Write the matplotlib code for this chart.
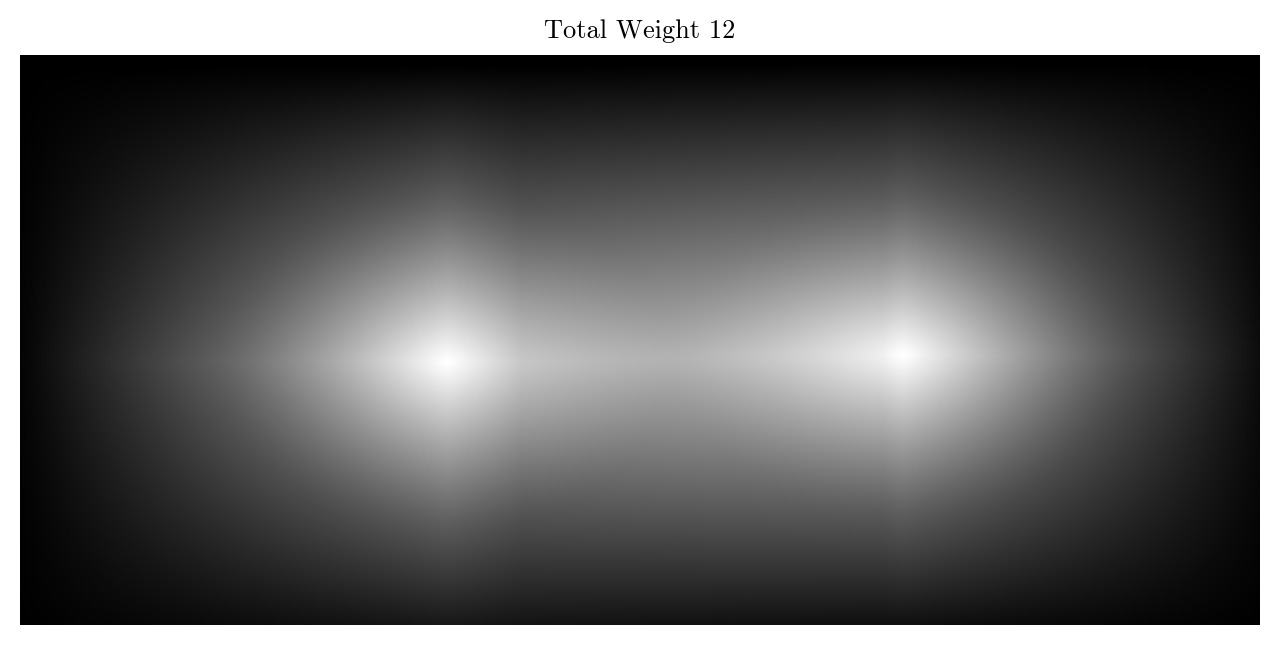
import numpy as np
import matplotlib
matplotlib.use("Agg")
import matplotlib.pyplot as plt

# source positions in image pixels (x from left, y from top of the 1240x570 field)
src_x = [427, 883]
src_y = [307, 300]
src_w = [6, 6]
# broad halo reach of each source (horizontal / vertical)
reach_x = [432, 378]
reach_y = [295, 290]
# rounded bright glow around each source
glow_x = [230, 230]
glow_y = [170, 165]
halo_share = 0.79
glow_share = 0.21

field_w, field_h = 1240, 570
nx, ny = 620, 285

xs = np.linspace(0, field_w, nx)
ys = np.linspace(0, field_h, ny)
X, Y = np.meshgrid(xs, ys)

soft = 4.0  # slight rounding of the ridge along each source's row / column


def tent(d, reach):
    d = np.sqrt(d ** 2 + soft ** 2) - soft
    return np.clip(1 - d / reach, 0, None)


Z = np.zeros_like(X)
for i in range(len(src_x)):
    dx = np.abs(X - src_x[i])
    dy = np.abs(Y - src_y[i])
    halo = tent(dx, reach_x[i]) * tent(dy, reach_y[i])
    r = np.sqrt((dx / glow_x[i]) ** 2 + (dy / glow_y[i]) ** 2)
    glow = np.clip(1 - r, 0, None) ** 1.5
    Z += src_w[i] * (halo_share * halo + glow_share * glow)

fig = plt.figure(figsize=(12.8, 6.45), dpi=100)
ax = fig.add_axes([20 / 1280, 20 / 645, 1240 / 1280, 570 / 645])
ax.imshow(Z, cmap="gray", vmin=0, vmax=Z.max(), aspect="auto",
          interpolation="bilinear")
ax.axis("off")
fig.text(0.5, 1 - 38 / 645, "Total Weight 12", ha="center", va="baseline",
         fontsize=19, fontfamily="cmr10")
fig.savefig("out.png", dpi=100)
